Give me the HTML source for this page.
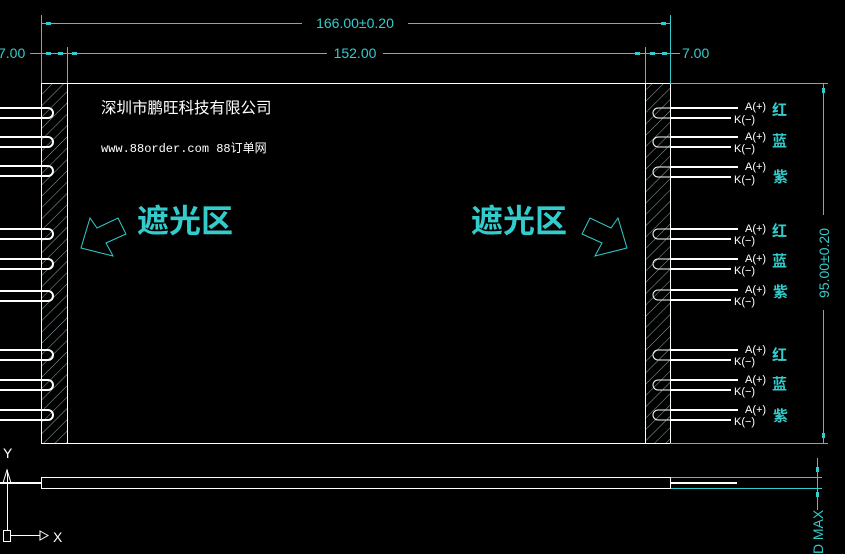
<!DOCTYPE html>
<html><head><meta charset="utf-8"><style>
html,body{margin:0;padding:0;background:#000;}
svg{display:block;}
</style></head><body>
<svg width="845" height="554" viewBox="0 0 845 554" xmlns="http://www.w3.org/2000/svg">
<defs>
<pattern id="h" width="8" height="8" patternUnits="userSpaceOnUse" patternTransform="rotate(45)">
<line x1="0" y1="0" x2="0" y2="8" stroke="#8aa" stroke-width="1"/>
</pattern>
</defs>
<rect width="845" height="554" fill="#000"/>
<rect x="41" y="83" width="26" height="360" fill="url(#h)"/>
<rect x="645" y="83" width="25" height="360" fill="url(#h)"/>
<rect x="41.5" y="83.5" width="629" height="360" fill="none" stroke="#fff" stroke-width="1"/>
<line x1="67.5" y1="83" x2="67.5" y2="443" stroke="#fff"/>
<line x1="645.5" y1="83" x2="645.5" y2="443" stroke="#fff"/>
<g stroke="#3cc" stroke-width="1" fill="none">
<line x1="41.5" y1="15" x2="41.5" y2="83"/>
<line x1="670.5" y1="15" x2="670.5" y2="83"/>
<line x1="67.5" y1="47" x2="67.5" y2="83"/>
<line x1="645.5" y1="47" x2="645.5" y2="83"/>
<line x1="41" y1="23.5" x2="302" y2="23.5"/>
<line x1="408" y1="23.5" x2="670" y2="23.5"/>
<line x1="30" y1="53.5" x2="327" y2="53.5"/>
<line x1="383" y1="53.5" x2="680" y2="53.5"/>
<line x1="670" y1="83.5" x2="828" y2="83.5"/>
<line x1="670" y1="443.5" x2="828" y2="443.5"/>
<line x1="823.5" y1="83" x2="823.5" y2="215"/>
<line x1="823.5" y1="310" x2="823.5" y2="443"/>
<line x1="670" y1="477.5" x2="822" y2="477.5"/>
<line x1="670" y1="488.5" x2="822" y2="488.5"/>
<line x1="817.5" y1="458" x2="817.5" y2="510"/>
</g>
<g fill="#3cc">
<rect x="46" y="22" width="5" height="3"/><rect x="661" y="22" width="5" height="3"/>
<rect x="46" y="52" width="5" height="3"/><rect x="58" y="52" width="5" height="3"/><rect x="72" y="52" width="5" height="3"/>
<rect x="635" y="52" width="5" height="3"/><rect x="650" y="52" width="5" height="3"/><rect x="662" y="52" width="5" height="3"/>
<rect x="822" y="88" width="3" height="5"/><rect x="822" y="433" width="3" height="5"/>
<rect x="816" y="467" width="3" height="5"/><rect x="816" y="492" width="3" height="5"/>
</g>
<g font-family="Liberation Sans, sans-serif" font-size="14" fill="#3cc">
<text x="355" y="28" text-anchor="middle">166.00±0.20</text>
<text x="355" y="58" text-anchor="middle">152.00</text>
<text x="-2" y="58">7.00</text>
<text x="682" y="58">7.00</text>
<text transform="translate(829,263) rotate(-90)" text-anchor="middle">95.00±0.20</text>
<text transform="translate(823,525) rotate(-90)" text-anchor="middle">MAX</text>
<text transform="translate(823,554) rotate(-90)">D</text>
</g>
<g stroke="#fff" stroke-width="2" fill="none">
<path d="M0 108H48a5 5 0 0 1 0 10H0"/>
<path d="M0 137H48a5 5 0 0 1 0 10H0"/>
<path d="M0 166H48a5 5 0 0 1 0 10H0"/>
<path d="M0 229H48a5 5 0 0 1 0 10H0"/>
<path d="M0 259H48a5 5 0 0 1 0 10H0"/>
<path d="M0 291H48a5 5 0 0 1 0 10H0"/>
<path d="M0 350H48a5 5 0 0 1 0 10H0"/>
<path d="M0 380H48a5 5 0 0 1 0 10H0"/>
<path d="M0 410H48a5 5 0 0 1 0 10H0"/>
</g>
<g stroke="#fff" fill="none" stroke-width="1">
<path d="M738 108H658a5 5 0 0 0 0 10H731"/>
<path d="M738 137H658a5 5 0 0 0 0 10H731"/>
<path d="M738 167H658a5 5 0 0 0 0 10H731"/>
<path d="M738 229H658a5 5 0 0 0 0 10H731"/>
<path d="M738 259H658a5 5 0 0 0 0 10H731"/>
<path d="M738 290H658a5 5 0 0 0 0 10H731"/>
<path d="M738 350H658a5 5 0 0 0 0 10H731"/>
<path d="M738 380H658a5 5 0 0 0 0 10H731"/>
<path d="M738 410H658a5 5 0 0 0 0 10H731"/>
</g>
<g stroke="#fff" stroke-width="2">
<line x1="670" y1="108" x2="738" y2="108"/><line x1="670" y1="118" x2="731" y2="118"/>
<line x1="670" y1="137" x2="738" y2="137"/><line x1="670" y1="147" x2="731" y2="147"/>
<line x1="670" y1="167" x2="738" y2="167"/><line x1="670" y1="177" x2="731" y2="177"/>
<line x1="670" y1="229" x2="738" y2="229"/><line x1="670" y1="239" x2="731" y2="239"/>
<line x1="670" y1="259" x2="738" y2="259"/><line x1="670" y1="269" x2="731" y2="269"/>
<line x1="670" y1="290" x2="738" y2="290"/><line x1="670" y1="300" x2="731" y2="300"/>
<line x1="670" y1="350" x2="738" y2="350"/><line x1="670" y1="360" x2="731" y2="360"/>
<line x1="670" y1="380" x2="738" y2="380"/><line x1="670" y1="390" x2="731" y2="390"/>
<line x1="670" y1="410" x2="738" y2="410"/><line x1="670" y1="420" x2="731" y2="420"/>
</g>
<g font-family="Liberation Sans, sans-serif" font-size="11" fill="#fff">
<text x="745" y="110">A(+)</text><text x="734" y="123">K(−)</text>
<text x="745" y="140">A(+)</text><text x="734" y="152">K(−)</text>
<text x="745" y="170">A(+)</text><text x="734" y="183">K(−)</text>
<text x="745" y="232">A(+)</text><text x="734" y="244">K(−)</text>
<text x="745" y="262">A(+)</text><text x="734" y="274">K(−)</text>
<text x="745" y="293">A(+)</text><text x="734" y="305">K(−)</text>
<text x="745" y="353">A(+)</text><text x="734" y="365">K(−)</text>
<text x="745" y="383">A(+)</text><text x="734" y="395">K(−)</text>
<text x="745" y="413">A(+)</text><text x="734" y="425">K(−)</text>
</g>
<g font-family="Noto Sans CJK SC, sans-serif" font-size="15" font-weight="bold" fill="#3cc">
<text x="772" y="115">红</text><text x="772" y="146">蓝</text><text x="773" y="182">紫</text>
<text x="772" y="236">红</text><text x="772" y="266">蓝</text><text x="773" y="297">紫</text>
<text x="772" y="360">红</text><text x="772" y="389">蓝</text><text x="773" y="421">紫</text>
</g>
<text x="101" y="113" font-family="Liberation Sans, Noto Sans CJK SC, sans-serif" font-size="15.5" fill="#fff">深圳市鹏旺科技有限公司</text>
<text x="101" y="152" font-family="Liberation Mono, Noto Sans CJK SC, monospace" font-size="12" fill="#fff">www.88order.com 88订单网</text>
<g font-family="Noto Sans CJK SC, sans-serif" font-size="32" font-weight="bold" fill="#3cc">
<text x="137" y="232">遮光区</text>
<text x="471" y="232">遮光区</text>
</g>
<g stroke="#3cc" fill="none" stroke-width="1">
<polygon points="81,248 90,218 97,228 118,218 126,234 106,243 113,256"/>
<polygon points="627,248 618,218 611,228 590,218 582,234 602,243 595,256"/>
</g>
<rect x="41.5" y="477.5" width="629" height="11" fill="none" stroke="#fff"/>
<line x1="670" y1="483" x2="737" y2="483" stroke="#fff" stroke-width="2"/>
<line x1="0" y1="483" x2="41" y2="483" stroke="#fff" stroke-width="2"/>
<g stroke="#fff" fill="none" stroke-width="1">
<line x1="7.5" y1="470" x2="7.5" y2="530"/>
<polygon points="7,470 3,483 11,483"/>
<rect x="3.5" y="530.5" width="7" height="11"/>
<line x1="10" y1="535.5" x2="40" y2="535.5"/>
<polygon points="40,531 48,535.5 40,540"/>
</g>
<g font-family="Liberation Sans, sans-serif" font-size="14" fill="#fff">
<text x="3" y="458">Y</text>
<text x="53" y="542">X</text>
</g>
</svg>
</body></html>
